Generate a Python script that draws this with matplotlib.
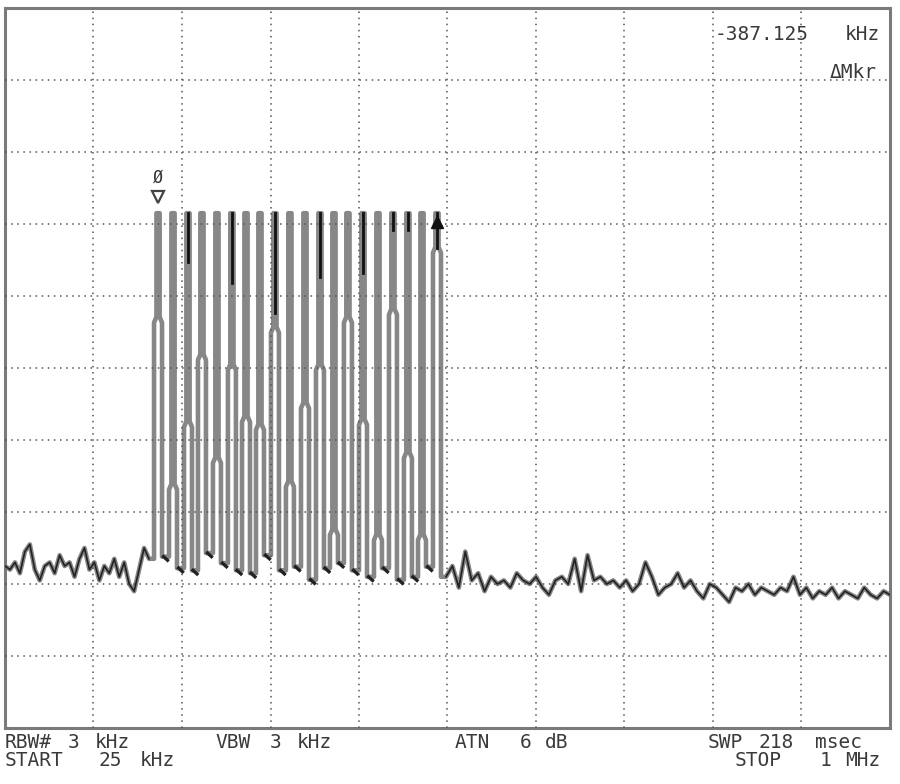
import numpy as np
import matplotlib
matplotlib.use("Agg")
import matplotlib.pyplot as plt

# 频谱仪截图: 25 kHz .. 1 MHz, 纵轴按格 (0..10)
f_start, f_stop = 25.0, 1000.0

# 梳状谱线 (kHz)
peak_f = [193.6, 210.1, 226.6, 242.0, 258.5, 275.0, 290.5, 305.9, 322.4, 338.9,
          355.5, 372.0, 387.4, 402.8, 419.4, 435.9, 452.4, 468.9, 484.4, 500.9]
peak_top = 7.15
# 每根谱线两侧分开的高度 (格)
split_lv = [5.63, 3.31, 4.18, 5.11, 3.68, 4.97, 4.25, 4.14, 5.49, 3.35,
            4.44, 4.97, 2.68, 5.63, 4.21, 2.61, 5.74, 3.75, 2.61, 6.60]
# 谱线之间的谷底 (格)
valley_lv = [2.38, 2.22, 2.19, 2.43, 2.29, 2.19, 2.15, 2.40, 2.19, 2.24,
             2.06, 2.22, 2.29, 2.19, 2.10, 2.22, 2.06, 2.10, 2.24]
# 黑色迹线 (最大保持) 在部分谱线上的下端
black_idx = [2, 5, 8, 11, 14, 16, 17, 19]
black_low = [6.47, 6.18, 5.76, 6.26, 6.32, 6.92, 6.92, 6.67]

# 噪声底
left_noise = [2.25, 2.20, 2.30, 2.15, 2.45, 2.55, 2.20, 2.05, 2.25, 2.30,
              2.15, 2.40, 2.25, 2.30, 2.10, 2.35, 2.50, 2.20, 2.30, 2.05,
              2.25, 2.15, 2.35, 2.10, 2.30, 2.00, 1.90, 2.20, 2.50, 2.35]
right_noise = [2.10, 2.25, 1.95, 2.45, 2.05, 2.15, 1.90, 2.10, 2.00, 2.05,
               1.95, 2.15, 2.05, 2.00, 2.10, 1.95, 1.85, 2.05, 2.10, 2.00,
               2.35, 1.90, 2.40, 2.05, 2.10, 2.00, 2.05, 1.95, 2.05, 1.90,
               2.00, 2.30, 2.10, 1.85, 1.95, 2.00, 2.15, 1.95, 2.05, 1.90,
               1.80, 2.00, 1.95, 1.85, 1.75, 1.95, 1.90, 2.00, 1.85, 1.95,
               1.90, 1.85, 1.95, 1.90, 2.10, 1.85, 1.95, 1.80, 1.90, 1.85,
               1.95, 1.80, 1.90, 1.85, 1.80, 1.95, 1.85, 1.80, 1.90, 1.85]

# 屏幕文字: (文字, 左端像素, 行中心像素)
labels = [("-387.125", 715, 35), ("kHz", 845, 35), ("ΔMkr", 830, 72),
          ("RBW#", 5, 743), ("3", 68, 743), ("kHz", 95, 743),
          ("VBW", 215, 743), ("3", 270, 743), ("kHz", 297, 743),
          ("ATN", 455, 743), ("6", 520, 743), ("dB", 545, 743),
          ("SWP", 708, 743), ("218", 758, 743), ("msec", 815, 743),
          ("START", 5, 761), ("25", 98, 761), ("kHz", 140, 761),
          ("STOP", 735, 761), ("1", 820, 761), ("MHz", 845, 761)]

W, H = 900, 784
fig = plt.figure(figsize=(W / 100, H / 100), dpi=100)
ax = fig.add_axes([5 / W, 1 - 728 / H, 885 / W, 720 / H])
ax.set_xlim(f_start, f_stop)
ax.set_ylim(0, 10)

px = (f_stop - f_start) / 885.0  # kHz per pixel
edge = 4.0 * px
tip = 1.6 * px

# 组装迹线
xl = np.linspace(f_start, peak_f[0] - 9 * px, len(left_noise))
tx = list(xl)
ty = list(left_noise)
for k, f in enumerate(peak_f):
    lo_l = valley_lv[k - 1] if k > 0 else left_noise[-1]
    lo_r = valley_lv[k] if k < len(valley_lv) else right_noise[0]
    tx += [f - edge, f - edge, f - tip, f - tip, f + tip, f + tip, f + edge, f + edge]
    ty += [lo_l, split_lv[k], split_lv[k] + 0.08, peak_top, peak_top,
           split_lv[k] + 0.08, split_lv[k], lo_r]
xr = np.linspace(peak_f[-1] + 9 * px, f_stop, len(right_noise))
tx += list(xr)
ty += list(right_noise)

ax.plot(tx, ty, color="#878787", lw=3.3, solid_joinstyle="round",
        solid_capstyle="round", zorder=2)
ax.plot(xl, left_noise, color="#222222", lw=1.2, zorder=3)
ax.plot(xr, right_noise, color="#222222", lw=1.2, zorder=3)
for k in range(len(valley_lv)):
    xm = (peak_f[k] + peak_f[k + 1]) / 2
    ax.plot([xm - 2 * px, xm + 2 * px], [valley_lv[k], valley_lv[k] - 0.05],
            color="#222222", lw=2.4, zorder=3)
for i, lo in zip(black_idx, black_low):
    ax.plot([peak_f[i], peak_f[i]], [peak_top, lo], color="#111111", lw=2.0, zorder=3)

# 标记
ax.plot(peak_f[-1], peak_top - 0.12, marker="^", ms=8, color="#111111", zorder=4)
ax.plot(peak_f[0], peak_top + 0.22, marker="v", ms=9, mfc="white", mec="#444444",
        mew=1.6, zorder=4)
ax.text(peak_f[0], peak_top + 0.5, "Ø", ha="center", va="center",
        fontsize=12, family="DejaVu Sans Mono", color="#333333", zorder=4)

# 网格
ax.set_xticks(np.linspace(f_start, f_stop, 11)[1:-1])
ax.set_yticks(np.arange(1, 10))
ax.grid(True, color="#555555", lw=1.1, linestyle=(0, (1, 3)), zorder=5)
ax.set_axisbelow(False)
ax.tick_params(length=0, labelbottom=False, labelleft=False)
for s in ax.spines.values():
    s.set_color("#7a7a7a")
    s.set_linewidth(2.2)

for s, x0, y0 in labels:
    fig.text(x0 / W, 1 - y0 / H, s, ha="left", va="center",
             family="DejaVu Sans Mono", fontsize=14, color="#3a3a3a")

fig.savefig("out.png", dpi=100)
